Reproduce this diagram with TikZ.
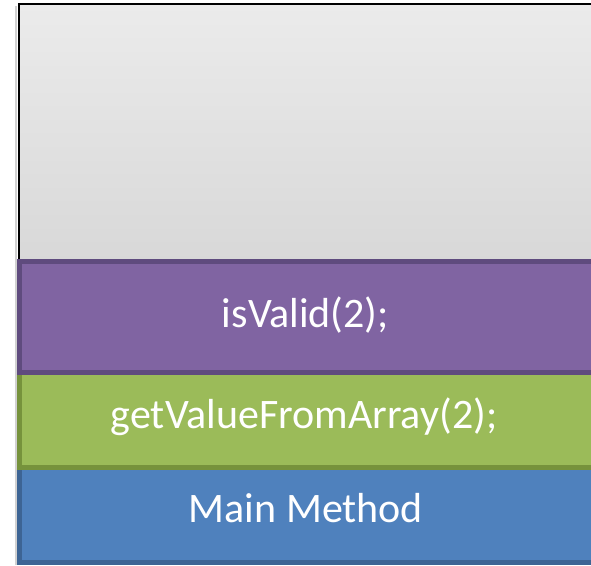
\documentclass[tikz,border=0pt]{standalone}
\usepackage{fontspec}
\setmainfont{Carlito}
\definecolor{framegrayTop}{HTML}{EBEBEB}
\definecolor{framegrayBot}{HTML}{D8D8D8}
\definecolor{purpleFill}{HTML}{8064A2}
\definecolor{purpleLine}{HTML}{5F4B7E}
\definecolor{greenFill}{HTML}{9BBB59}
\definecolor{greenLine}{HTML}{76923C}
\definecolor{blueFill}{HTML}{4F81BD}
\definecolor{blueLine}{HTML}{3D6494}
\tikzset{
  layer/.style={line width=5pt},
  label/.style={text=white, font=\fontsize{42}{50}\selectfont, anchor=base, inner sep=0pt}
}
\begin{document}
\begin{tikzpicture}[x=1pt, y=-1pt]
  \useasboundingbox (0,0) rectangle (591,565);
  \clip (0,0) rectangle (591,565);
  % soft shadow left of the frame
  \draw[black!18, line width=1.5pt] (16.2,6) -- (16.2,565);
  % empty upper part of the stack
  \shade[top color=framegrayTop, bottom color=framegrayBot] (19,4) rectangle (600,262);
  \draw[black, line width=2pt] (19,262) -- (19,4) -- (600,4);
  % stack frames, bottom to top
  \draw[layer, draw=blueLine, fill=blueFill] (19.5,467.5) rectangle (600,562.5);
  \draw[layer, draw=greenLine, fill=greenFill] (19.5,372.5) rectangle (600,467.5);
  \draw[layer, draw=purpleLine, fill=purpleFill] (19.5,261.5) rectangle (600,372.5);
  \node[label] (main) at (306,522) {Main Method};
  \node[label] (getval) at (304,428) {getValueFromArray(2);};
  \node[label] (valid) at (305.5,327) {isValid(2);};
\end{tikzpicture}
\end{document}
